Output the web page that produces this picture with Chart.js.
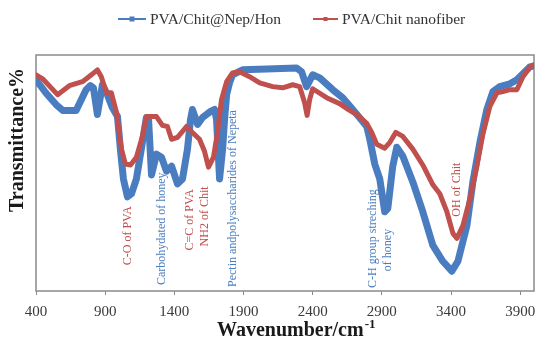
<!DOCTYPE html>
<html><head><meta charset="utf-8">
<script src="https://cdn.jsdelivr.net/npm/chart.js@4.4.0/dist/chart.umd.min.js"></script>
<style>html,body{margin:0;padding:0;background:#fff}#wrap{width:554px;height:348px}</style>
</head><body><div id="wrap"><canvas id="c" width="554" height="348"></canvas></div>
<script>
const seriesNames = ['PVA/Chit@Nep/Hon', 'PVA/Chit nanofiber'];

const blueWavenumber = [400,472,545,593,690,762,793,815,844,880,916,952,989,1010,1032,1061,1090,1126,1169,1198,1213,1235,1271,1307,1343,1380,1423,1459,1495,1517,1531,1568,1604,1662,1691,1705,1727,1749,1763,1778,1799,1821,1893,2067,2284,2320,2356,2400,2451,2545,2617,2690,2762,2791,2813,2849,2885,2921,2943,2979,3008,3052,3124,3196,3269,3341,3406,3450,3515,3558,3609,3659,3703,3753,3826,3876,3920,3971,4000];
const blueTransmittance = [89.5,83.9,79.0,76.5,76.5,85.3,87.0,86.1,74.8,87.4,83.2,77.7,73.9,60.1,47.5,39.9,41.2,47.5,63.0,73.5,73.5,49.2,58.0,56.7,50.8,52.9,45.4,47.5,60.1,72.7,76.9,70.6,73.5,76.1,76.9,72.7,47.5,60.1,72.7,83.2,88.2,91.6,93.7,94.1,94.5,92.9,86.6,91.6,90.3,85.3,81.9,76.9,71.8,69.7,64.3,53.8,47.5,33.6,34.9,52.9,60.9,57.1,46.2,33.6,19.3,12.6,8.4,12.6,27.7,46.2,63.0,76.9,84.5,86.6,87.8,89.5,92.0,95.0,95.4];

const redWavenumber = [400,448,556,641,735,771,800,844,872,909,945,982,1018,1046,1083,1126,1169,1198,1271,1314,1350,1380,1423,1488,1531,1582,1618,1647,1683,1712,1741,1778,1821,1872,1944,2017,2111,2183,2256,2306,2342,2360,2378,2400,2501,2595,2646,2719,2791,2827,2863,2921,2958,3001,3052,3124,3196,3269,3319,3370,3414,3443,3486,3537,3587,3630,3681,3732,3775,3826,3876,3920,3971,4000];
const redTransmittance = [91.6,89.9,83.2,87.0,88.7,90.3,91.6,93.7,90.8,84.0,84.0,75.6,60.1,53.8,53.4,56.7,65.5,73.9,73.9,70.2,69.7,64.3,65.1,69.7,67.2,64.3,59.2,52.5,56.7,67.2,81.1,88.7,92.4,92.9,90.8,88.2,86.6,86.1,87.4,86.6,79.8,74.4,81.1,85.7,81.9,79.4,77.3,74.8,71.0,67.2,62.2,60.5,63.0,67.2,65.5,60.1,53.4,45.0,41.2,33.6,24.4,22.3,27.7,39.1,52.9,66.4,78.2,84.0,84.5,85.3,85.3,90.8,95.0,95.8];

const xTickValues = [400,900,1400,1900,2400,2900,3400,3900];
const xTitle = 'Wavenumber/cm';
const xTitleSup = '-1';
const yTitle = 'Transmittance%';

const annotationTexts = ['C-O of PVA','Carbohydated of honey','C=C of PVA','NH2 of Chit','Pectin andpolysaccharides of Nepeta','C-H group streching','of honey','OH of Chit'];
const annotationWavenumber = [1061,1307,1510,1618,1821,2835,2943,3443];
const annotationLevel = [10.9,2.5,17.2,18.9,1.7,1.3,8.4,31.5];
const annotationSeries = [1,0,1,1,0,0,0,1];

const COLORS = ['#4a7dc0', '#c0504d'];
const SERIF = "'Liberation Serif', 'Times New Roman', serif";

const toXY = (xs, ys) => xs.map((x, i) => ({x: x, y: ys[i]}));

const framePlugin = {
  id: 'frame',
  beforeDatasetsDraw(chart) {
    const {ctx, chartArea: a} = chart;
    ctx.save();
    ctx.strokeStyle = '#8a8a8a';
    ctx.lineWidth = 1.5;
    ctx.strokeRect(a.left, a.top, a.right - a.left, a.bottom - a.top);
    ctx.restore();
  }
};

const decorPlugin = {
  id: 'decor',
  afterDatasetsDraw(chart) {
    const {ctx} = chart;
    const xs = chart.scales.x, ys = chart.scales.y;
    ctx.save();
    ctx.font = '12px ' + SERIF;
    ctx.textAlign = 'left';
    ctx.textBaseline = 'middle';
    annotationTexts.forEach((t, i) => {
      const px = xs.getPixelForValue(annotationWavenumber[i]);
      const py = ys.getPixelForValue(annotationLevel[i]);
      ctx.save();
      ctx.translate(px, py);
      ctx.rotate(-Math.PI / 2);
      ctx.fillStyle = COLORS[annotationSeries[i]];
      ctx.fillText(t, 0, 0);
      ctx.restore();
    });
    const legendY = 19;
    const items = [
      {x1: 118, x2: 146, text: 150, size: 5},
      {x1: 313, x2: 338, text: 342, size: 4}
    ];
    items.forEach((it, i) => {
      ctx.strokeStyle = COLORS[i];
      ctx.lineWidth = 2;
      ctx.beginPath();
      ctx.moveTo(it.x1, legendY);
      ctx.lineTo(it.x2, legendY);
      ctx.stroke();
      ctx.fillStyle = COLORS[i];
      const mx = (it.x1 + it.x2) / 2;
      ctx.fillRect(mx - it.size / 2, legendY - it.size / 2, it.size, it.size);
      ctx.fillStyle = '#333333';
      ctx.font = '15.5px ' + SERIF;
      ctx.textBaseline = 'middle';
      ctx.textAlign = 'left';
      ctx.fillText(seriesNames[i], it.text, legendY + 1);
    });
    ctx.fillStyle = '#1a1a1a';
    ctx.font = 'bold 20px ' + SERIF;
    ctx.textBaseline = 'alphabetic';
    ctx.textAlign = 'left';
    const tx = 217, ty = 336;
    ctx.fillText(xTitle, tx, ty);
    const w = ctx.measureText(xTitle).width;
    ctx.font = 'bold 13px ' + SERIF;
    ctx.fillText(xTitleSup, tx + w + 1, ty - 8);
    ctx.save();
    ctx.font = 'bold 20px ' + SERIF;
    ctx.translate(18, 140);
    ctx.rotate(-Math.PI / 2);
    ctx.textAlign = 'center';
    ctx.textBaseline = 'middle';
    ctx.fillText(yTitle, 0, 0);
    ctx.restore();
    ctx.restore();
  }
};

Chart.defaults.font.family = SERIF;

new Chart(document.getElementById('c'), {
  type: 'line',
  data: {
    datasets: [
      {label: seriesNames[0], data: toXY(blueWavenumber, blueTransmittance), borderColor: COLORS[0], backgroundColor: COLORS[0], borderWidth: 7, pointRadius: 0, tension: 0, order: 2, borderJoinStyle: 'round', borderCapStyle: 'round'},
      {label: seriesNames[1], data: toXY(redWavenumber, redTransmittance), borderColor: COLORS[1], backgroundColor: COLORS[1], borderWidth: 5, pointRadius: 0, tension: 0, order: 1, borderJoinStyle: 'round', borderCapStyle: 'round'}
    ]
  },
  options: {
    responsive: false,
    animation: false,
    devicePixelRatio: 1,
    layout: {padding: {left: 36, right: 20, top: 55, bottom: 19}},
    plugins: {legend: {display: false}, tooltip: {enabled: false}, title: {display: false}},
    scales: {
      x: {
        type: 'linear', min: 400, max: 4000,
        afterBuildTicks: s => { s.ticks = xTickValues.map(v => ({value: v})); },
        ticks: {font: {family: SERIF, size: 15}, color: '#3a3a3a', padding: 8, maxRotation: 0, autoSkip: false, callback: v => String(v)},
        grid: {display: true, drawOnChartArea: false, drawTicks: true, tickLength: 4, color: '#8a8a8a'},
        border: {display: false}
      },
      y: {display: false, min: 0, max: 100}
    }
  },
  plugins: [framePlugin, decorPlugin]
});
</script>
</body></html>
